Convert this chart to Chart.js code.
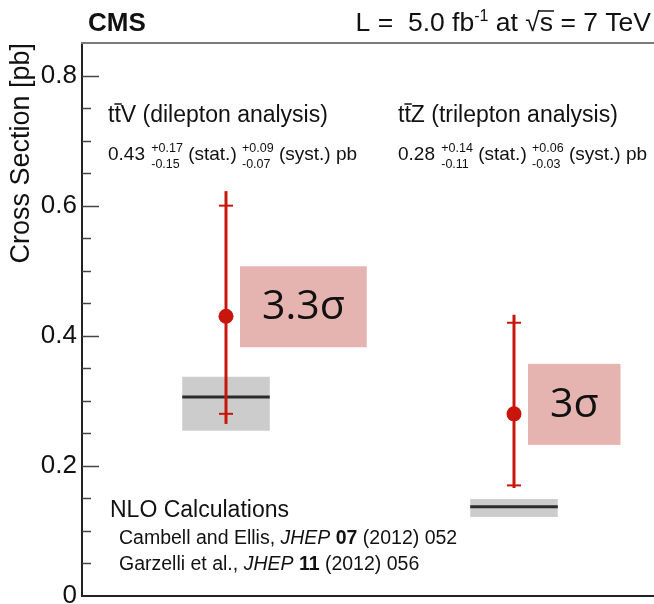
<!DOCTYPE html>
<html>
<head>
<meta charset="utf-8">
<title>ttV cross sections</title>
<script src="https://cdn.jsdelivr.net/npm/chart.js@4.4.0/dist/chart.umd.min.js"></script>
<style>
  html, body { margin: 0; padding: 0; background: #fff; overflow: hidden; }
  /* plot frame runs past the right edge of the page */
  #wrap { width: 654px; height: 604px; overflow: hidden; }
</style>
</head>
<body>
<div id="wrap"><canvas id="xsecChart" width="658" height="604"></canvas></div>
<script>
// measured cross sections [pb]
const channels = ['ttV', 'ttZ'];
const xsec = [0.43, 0.28];
const statUp = [0.17, 0.14];
const statDown = [0.15, 0.11];
const systUp = [0.09, 0.06];
const systDown = [0.07, 0.03];
const significance = ['3.3σ', '3σ'];

// NLO predictions [pb]
const nloCentral = [0.306, 0.137];
const nloLow = [0.254, 0.1215];
const nloHigh = [0.337, 0.149];

// labelled y ticks
const yTicks = [0, 0.2, 0.4, 0.6, 0.8];
const yMax = 0.85;

const FONT = "'Liberation Sans', Arial, Helvetica, sans-serif";
const RED = '#c8160c';

const isMajor = v => yTicks.some(t => Math.abs(t - v) < 1e-6);

// draws a sequence of text pieces; stacked pieces put an upper and lower script at the same x
function drawRuns(ctx, x, y, runs, alignRight) {
    let total = 0;
    runs.forEach(r => {
        ctx.font = r.font;
        if (r.stack) {
            r.w = Math.max(ctx.measureText(r.stack[0]).width, ctx.measureText(r.stack[1]).width);
        } else {
            r.w = ctx.measureText(r.text).width;
        }
        total += r.w + (r.gap || 0);
    });
    let cx = alignRight ? x - total : x;
    ctx.textAlign = 'left';
    ctx.textBaseline = 'alphabetic';
    runs.forEach(r => {
        ctx.font = r.font;
        if (r.stack) {
            ctx.fillText(r.stack[0], cx, y - 8);
            ctx.fillText(r.stack[1], cx, y + 8);
        } else {
            ctx.fillText(r.text, cx, y + (r.dy || 0));
            if (r.over) {
                ctx.beginPath();
                ctx.lineWidth = 1.5;
                ctx.moveTo(cx + r.over[0], y - r.over[2]);
                ctx.lineTo(cx + r.w + r.over[1], y - r.over[2]);
                ctx.stroke();
            }
        }
        cx += r.w + (r.gap || 0);
    });
}

function channelTitle(ctx, x, y, boson, rest) {
    const f = '23px ' + FONT;
    drawRuns(ctx, x, y, [
        { text: 't', font: f },
        { text: 't', font: f, over: [0, 1, 18] },
        { text: boson + ' (' + rest + ' analysis)', font: f }
    ]);
}

function valueLine(ctx, x, y, i) {
    const f = '19px ' + FONT;
    const s = '12.5px ' + FONT;
    drawRuns(ctx, x, y, [
        { text: xsec[i].toFixed(2) + ' ', font: f, gap: 1 },
        { stack: ['+' + statUp[i].toFixed(2), '-' + statDown[i].toFixed(2)], font: s },
        { text: ' (stat.) ', font: f },
        { stack: ['+' + systUp[i].toFixed(2), '-' + systDown[i].toFixed(2)], font: s },
        { text: ' (syst.) pb', font: f }
    ]);
}

const cmsPlugin = {
    id: 'cmsPlugin',
    beforeDatasetDraw(chart, args) {
        if (args.index !== 0) return;
        const ctx = chart.ctx;
        const y = chart.scales.y;
        const bands = chart.getDatasetMeta(1).data;
        const pts = chart.getDatasetMeta(0).data;
        ctx.save();
        // NLO central values
        bands.forEach((bar, i) => {
            const py = y.getPixelForValue(nloCentral[i]);
            ctx.strokeStyle = '#2b2b2b';
            ctx.lineWidth = 3;
            ctx.beginPath();
            ctx.moveTo(bar.x - bar.width / 2, py);
            ctx.lineTo(bar.x + bar.width / 2, py);
            ctx.stroke();
        });
        // stat. and total uncertainties
        pts.forEach((pt, i) => {
            const totUp = Math.sqrt(statUp[i] ** 2 + systUp[i] ** 2);
            const totDown = Math.sqrt(statDown[i] ** 2 + systDown[i] ** 2);
            const top = y.getPixelForValue(xsec[i] + totUp);
            const bot = y.getPixelForValue(xsec[i] - totDown);
            ctx.strokeStyle = RED;
            ctx.lineWidth = 3;
            ctx.beginPath();
            ctx.moveTo(pt.x, top);
            ctx.lineTo(pt.x, bot);
            ctx.stroke();
            ctx.lineWidth = 2;
            [xsec[i] + statUp[i], xsec[i] - statDown[i]].forEach(v => {
                const py = y.getPixelForValue(v);
                ctx.beginPath();
                ctx.moveTo(pt.x - 7, py);
                ctx.lineTo(pt.x + 7, py);
                ctx.stroke();
            });
        });
        ctx.restore();
    },
    afterDatasetsDraw(chart) {
        const ctx = chart.ctx;
        const pts = chart.getDatasetMeta(0).data;
        ctx.save();
        // significance boxes
        pts.forEach((pt, i) => {
            ctx.font = '41px "Open Sans", sans-serif';
            const tw = ctx.measureText(significance[i]).width;
            const bx = pt.x + 14;
            const by = pt.y - 50;
            ctx.fillStyle = '#e5b3b0';
            ctx.fillRect(bx, by, tw + 44, 81);
            ctx.fillStyle = '#111';
            ctx.textAlign = 'center';
            ctx.textBaseline = 'middle';
            ctx.fillText(significance[i], bx + (tw + 44) / 2, by + 41);
        });
        ctx.restore();
    },
    afterDraw(chart) {
        const ctx = chart.ctx;
        const area = chart.chartArea;
        const y = chart.scales.y;
        ctx.save();
        // top frame line
        ctx.strokeStyle = '#7a7a7a';
        ctx.lineWidth = 2;
        ctx.beginPath();
        ctx.moveTo(area.left - 1, area.top);
        ctx.lineTo(area.right, area.top);
        ctx.stroke();
        // inward tick marks
        ctx.strokeStyle = '#444';
        ctx.lineWidth = 1.5;
        y.ticks.forEach(t => {
            if (t.value <= 0 || t.value >= yMax - 1e-6) return;
            const py = Math.round(y.getPixelForValue(t.value)) + 0.5;
            const len = isMajor(t.value) ? 17 : 9;
            ctx.beginPath();
            ctx.moveTo(area.left, py);
            ctx.lineTo(area.left + len, py);
            ctx.stroke();
        });

        ctx.fillStyle = '#111';
        ctx.strokeStyle = '#111';
        // header
        ctx.font = 'bold 26px ' + FONT;
        ctx.textAlign = 'left';
        ctx.textBaseline = 'alphabetic';
        ctx.fillText('CMS', 88, 31);
        const h = '26.5px ' + FONT;
        drawRuns(ctx, 651, 31, [
            { text: 'L =  5.0 fb', font: h },
            { text: '-1', font: '16px ' + FONT, dy: -10 },
            { text: ' at ', font: h },
            { text: '√', font: h },
            { text: 's', font: h, over: [-1, 1, 20] },
            { text: ' = 7 TeV', font: h }
        ], true);

        // channel labels
        channelTitle(ctx, 108, 122, 'V', 'dilepton');
        channelTitle(ctx, 398, 122, 'Z', 'trilepton');
        valueLine(ctx, 108, 160, 0);
        valueLine(ctx, 398, 160, 1);

        // theory references
        ctx.font = '23px ' + FONT;
        ctx.textAlign = 'left';
        ctx.fillText('NLO Calculations', 110, 517);
        const r = '19.5px ' + FONT;
        const ri = 'italic 19.5px ' + FONT;
        const rb = 'bold 19.5px ' + FONT;
        drawRuns(ctx, 119, 544, [
            { text: 'Cambell and Ellis, ', font: r },
            { text: 'JHEP', font: ri },
            { text: ' 07', font: rb },
            { text: ' (2012) 052', font: r }
        ]);
        drawRuns(ctx, 119, 570, [
            { text: 'Garzelli et al., ', font: r },
            { text: 'JHEP', font: ri },
            { text: ' 11', font: rb },
            { text: ' (2012) 056', font: r }
        ]);
        ctx.restore();
    }
};

// keep the plot frame fixed: no extra room reserved for half-height tick labels
function noScalePadding(s) {
    s.paddingTop = 0;
    s.paddingBottom = 0;
    s.paddingLeft = 0;
    s.paddingRight = 0;
}

const ctx = document.getElementById('xsecChart').getContext('2d');
new Chart(ctx, {
    type: 'bar',
    data: {
        labels: channels,
        datasets: [
            {
                type: 'line',
                data: xsec,
                showLine: false,
                pointRadius: 7.5,
                pointBackgroundColor: RED,
                pointBorderWidth: 0,
                order: 0
            },
            {
                type: 'bar',
                data: channels.map((c, i) => [nloLow[i], nloHigh[i]]),
                backgroundColor: '#cccccc',
                borderWidth: 0,
                barPercentage: 0.304,
                categoryPercentage: 1,
                grouped: false,
                order: 2
            }
        ]
    },
    options: {
        responsive: false,
        animation: false,
        devicePixelRatio: 1,
        layout: { autoPadding: false, padding: { top: 43, right: 0, bottom: 0, left: 0 } },
        plugins: { legend: { display: false }, tooltip: { enabled: false } },
        scales: {
            x: {
                type: 'category',
                offset: true,
                grid: { display: false, drawTicks: false },
                ticks: { display: false },
                border: { display: true, color: '#222', width: 2 },
                afterFit: s => { s.height = 8; noScalePadding(s); }
            },
            y: {
                min: 0,
                max: yMax,
                grid: { display: false, drawTicks: false },
                border: { display: true, color: '#222', width: 2 },
                ticks: {
                    stepSize: 0.05,
                    autoSkip: false,
                    maxTicksLimit: 30,
                    padding: 5,
                    color: '#111',
                    font: { family: FONT, size: 26 },
                    callback: v => isMajor(v) ? (Math.abs(v) < 1e-6 ? '0' : v.toFixed(1)) : ''
                },
                title: {
                    display: true,
                    text: 'Cross Section [pb]',
                    align: 'end',
                    color: '#111',
                    font: { family: FONT, size: 27 },
                    padding: { top: 5, bottom: 0 }
                },
                afterFit: s => { s.width = 82; noScalePadding(s); }
            }
        }
    },
    plugins: [cmsPlugin]
});
</script>
</body>
</html>
